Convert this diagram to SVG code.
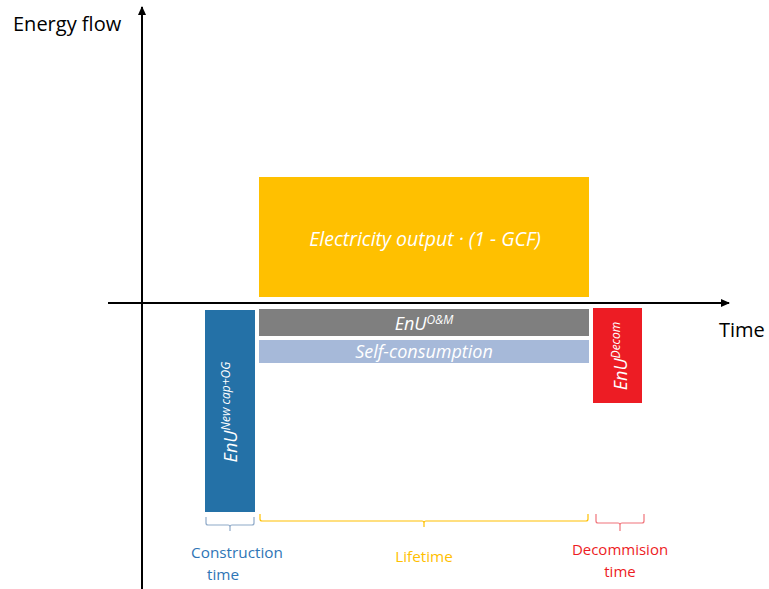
<svg xmlns="http://www.w3.org/2000/svg" width="769" height="589" viewBox="0 0 769 589">
<defs>
<marker id="arr" markerWidth="10" markerHeight="10" refX="8" refY="5" orient="auto" markerUnits="userSpaceOnUse">
<path d="M0,1 L9,5 L0,9 Z" fill="#000"/>
</marker>
<style>
.lbl{font-family:"Open Sans","Liberation Sans",sans-serif;}
.in{font-family:"Open Sans","Liberation Sans",sans-serif;font-style:italic;fill:#fff;font-size:18px;}
.sup{font-size:12px;}
.brace{fill:none;stroke-width:1.2;}
</style>
</defs>
<rect width="769" height="589" fill="#fff"/>
<g id="connectors">
<line x1="142" y1="589" x2="142" y2="7" stroke="#000" stroke-width="2" marker-end="url(#arr)"/>
<line x1="108" y1="303" x2="729" y2="303" stroke="#000" stroke-width="2" marker-end="url(#arr)"/>
</g>
<g id="axis-labels">
<text class="lbl" x="13" y="31" font-size="20" fill="#000">Energy flow</text>
<text class="lbl" x="719" y="337" font-size="20" fill="#000">Time</text>
</g>
<g id="electricity">
<rect x="259" y="177" width="330" height="120" fill="#FFC000"/>
<text class="in" x="425" y="246" text-anchor="middle" style="font-size:19.5px">Electricity output · (1 - GCF)</text>
</g>
<g id="om">
<rect x="259" y="309" width="330" height="27" fill="#7F7F7F"/>
<text class="in" x="424" y="330" text-anchor="middle">EnU<tspan class="sup" dy="-6">O&amp;M</tspan></text>
</g>
<g id="self">
<rect x="259" y="340" width="330" height="23" fill="#A6B9D9"/>
<text class="in" x="424" y="358" text-anchor="middle">Self-consumption</text>
</g>
<g id="newcap">
<rect x="205" y="310" width="50" height="202" fill="#2471A7"/>
<text class="in" transform="translate(237,412) rotate(-90)" text-anchor="middle">EnU<tspan class="sup" dy="-7">New cap+OG</tspan></text>
</g>
<g id="decom">
<rect x="593" y="308" width="49" height="95" fill="#ED1C24"/>
<text class="in" transform="translate(627,356) rotate(-90)" text-anchor="middle">EnU<tspan class="sup" dy="-7">Decom</tspan></text>
</g>
<g id="construction">
<path class="brace" stroke="#8EA9C8" d="M206,517 V523 Q206,525 208,525 H228 Q230,525 230,527 V531 M230,527 Q230,525 232,525 H252 Q254,525 254,523 V517"/>
<text class="lbl" x="237" y="558" font-size="15.3" fill="#2E75B6" text-anchor="middle">Construction</text>
<text class="lbl" x="223" y="580" font-size="15.3" fill="#2E75B6" text-anchor="middle">time</text>
</g>
<g id="lifetime">
<path class="brace" stroke="#FFC000" d="M260,514 V519 Q260,521 262,521 H422 Q424,521 424,523 V527 M424,523 Q424,521 426,521 H586 Q588,521 588,519 V514"/>
<text class="lbl" x="424" y="562" font-size="15.3" fill="#FFC000" text-anchor="middle">Lifetime</text>
</g>
<g id="decommission">
<path class="brace" stroke="#F0737A" d="M596,514 V521 Q596,523 598,523 H618 Q620,523 620,525 V531 M620,525 Q620,523 622,523 H642 Q644,523 644,521 V514"/>
<text class="lbl" x="620" y="555" font-size="15" fill="#ED1C24" text-anchor="middle">Decommision</text>
<text class="lbl" x="620" y="577" font-size="15" fill="#ED1C24" text-anchor="middle">time</text>
</g>
</svg>
